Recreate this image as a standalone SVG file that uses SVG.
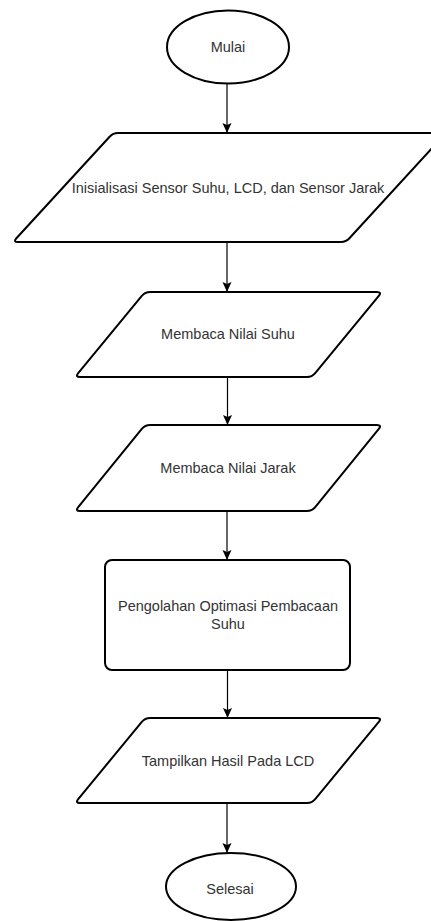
<svg xmlns="http://www.w3.org/2000/svg" width="431" height="921" viewBox="0 0 431 921">
<defs>
<style>
.s{fill:#fff;stroke:#000;stroke-width:2;stroke-linejoin:round}
.t{font-family:"Liberation Sans",Arial,sans-serif;font-size:14.5px;fill:#333;text-anchor:middle;dominant-baseline:central}
.c{stroke:#000;stroke-width:1.2;fill:none}
</style>
<marker id="ah" markerWidth="10" markerHeight="10" viewBox="0 0 10 10" refX="10" refY="5" orient="auto" markerUnits="userSpaceOnUse">
<path d="M0,0.5 L10,5 L0,9.5 L2,5 z" fill="#000"/>
</marker>
</defs>
<rect width="431" height="921" fill="#fff"/>
<g id="connectors">
<line class="c" x1="227" y1="84" x2="227" y2="133" marker-end="url(#ah)"/>
<line class="c" x1="227" y1="243" x2="227" y2="292" marker-end="url(#ah)"/>
<line class="c" x1="227.5" y1="378" x2="227.5" y2="425" marker-end="url(#ah)"/>
<line class="c" x1="227" y1="512" x2="227" y2="560" marker-end="url(#ah)"/>
<line class="c" x1="227.5" y1="671" x2="227.5" y2="718" marker-end="url(#ah)"/>
<line class="c" x1="227" y1="804" x2="227" y2="853" marker-end="url(#ah)"/>
</g>
<g id="mulai">
<ellipse class="s" cx="228" cy="47" rx="61" ry="36.5"/>
<text class="t" x="228" y="47">Mulai</text>
</g>
<g id="inisialisasi">
<path class="s" d="M118,133 L441,133 Q446,133 442.6,136.7 L349.4,238.3 Q346,242 341,242 L18,242 Q13,242 16.4,238.3 L109.6,136.7 Q113,133 118,133 Z"/>
<text class="t" x="228" y="188">Inisialisasi Sensor Suhu, LCD, dan Sensor Jarak</text>
</g>
<g id="baca-suhu">
<path class="s" d="M150,292 L377,292 Q382,292 378.8,295.9 L315.2,373.1 Q312,377 307,377 L80,377 Q75,377 78.2,373.1 L141.8,295.9 Q145,292 150,292 Z"/>
<text class="t" x="228" y="334">Membaca Nilai Suhu</text>
</g>
<g id="baca-jarak">
<path class="s" d="M150,425 L377,425 Q382,425 378.8,428.9 L315.2,507.1 Q312,511 307,511 L80,511 Q75,511 78.2,507.1 L141.8,428.9 Q145,425 150,425 Z"/>
<text class="t" x="228" y="468">Membaca Nilai Jarak</text>
</g>
<g id="pengolahan">
<rect class="s" x="105" y="560" width="245" height="110" rx="7"/>
<text class="t" x="228" y="606">Pengolahan Optimasi Pembacaan</text>
<text class="t" x="228" y="624">Suhu</text>
</g>
<g id="tampilkan">
<path class="s" d="M150,718 L377,718 Q382,718 378.8,721.9 L315.2,799.1 Q312,803 307,803 L80,803 Q75,803 78.2,799.1 L141.8,721.9 Q145,718 150,718 Z"/>
<text class="t" x="228" y="761">Tampilkan Hasil Pada LCD</text>
</g>
<g id="selesai">
<ellipse class="s" cx="231" cy="886.5" rx="65" ry="33.5"/>
<text class="t" x="230" y="889">Selesai</text>
</g>
</svg>
